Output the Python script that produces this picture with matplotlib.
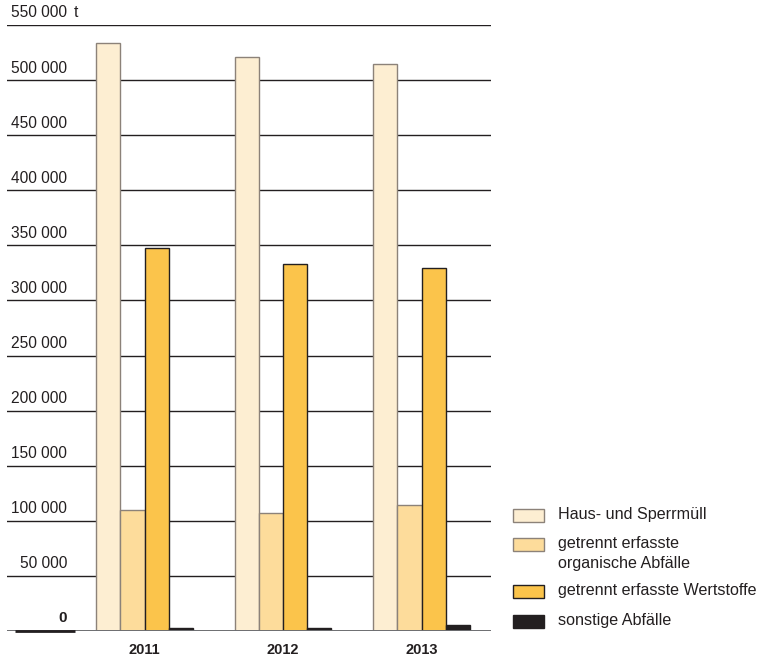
import matplotlib
matplotlib.use("Agg")
import matplotlib.pyplot as plt
from matplotlib.patches import Rectangle
import numpy as np

years = ["2011", "2012", "2013"]
series_labels = ["Haus- und Sperrmüll", "getrennt erfasste\norganische Abfälle",
                 "getrennt erfasste Wertstoffe", "sonstige Abfälle"]
haus = [533500, 521000, 514500]
organisch = [109800, 107300, 114400]
wertstoffe = [347400, 333100, 329500]
sonstige = [2800, 2800, 5200]
yticks = [50000, 100000, 150000, 200000, 250000, 300000, 350000, 400000, 450000, 500000, 550000]
ytick_labels = ["50 000", "100 000", "150 000", "200 000", "250 000", "300 000",
                "350 000", "400 000", "450 000", "500 000", "550 000"]

fills = ["#FDEED2", "#FDDC9B", "#FBC44B", "#231F20"]
edges = ["#8C8279", "#8C8279", "#231F20", "#231F20"]

plt.rcParams['font.family'] = ['Liberation Sans', 'DejaVu Sans']
W, H = 766, 658
fig = plt.figure(figsize=(W / 100, H / 100), dpi=100)
ax = fig.add_axes([7 / W, 27 / H, 484 / W, 606 / H])
ax.set_xlim(-0.9928, 2.5018)
ax.set_ylim(0, 550000)
for s in ax.spines.values():
    s.set_visible(False)
ax.set_xticks([])
ax.set_yticks([])

# grid lines
for v in yticks:
    ax.axhline(v, color="#231F20", lw=1.0, zorder=1)
ax.axhline(0, color="#6D6E71", lw=1.4, zorder=4)

x = np.arange(len(years))
w = 0.175
data = [haus, organisch, wertstoffe, sonstige]
for i, vals in enumerate(data):
    ax.bar(x + (i - 1.5) * w, vals, width=w, color=fills[i], edgecolor=edges[i],
           linewidth=1.0, zorder=3)

# y labels
lab_x = (67 - 7) / 484
for v, t in zip(yticks, ytick_labels):
    ax.annotate(t, xy=(lab_x, v), xycoords=ax.get_yaxis_transform(),
                xytext=(0, 3.3), textcoords="offset points",
                ha="right", va="bottom", fontsize=11.2, color="#231F20",
                annotation_clip=False)
ax.annotate("t", xy=(lab_x, 550000), xycoords=ax.get_yaxis_transform(),
            xytext=(5, 3.3), textcoords="offset points",
            ha="left", va="bottom", fontsize=11.2, color="#231F20",
            annotation_clip=False)
ax.annotate("0", xy=(lab_x, 0), xycoords=ax.get_yaxis_transform(),
            xytext=(0, 4.2), textcoords="offset points",
            ha="right", va="bottom", fontsize=11, fontweight="bold", color="#231F20",
            annotation_clip=False)
ax.plot([(15 - 7) / 484, (75 - 7) / 484], [0, 0], transform=ax.get_yaxis_transform(),
        color="#231F20", lw=2.0, zorder=5, clip_on=False, solid_capstyle="butt")

# year labels
for xi, yr in zip(x, years):
    ax.annotate(yr, xy=(xi, 0), xycoords="data", xytext=(0, -13.5),
                textcoords="offset points", ha="center", va="center",
                fontsize=10.5, fontweight="bold", color="#231F20", annotation_clip=False)

# legend (manual)
leg_rows = [515, 544, 591, 621]
for lab, fc, ec, yc in zip(series_labels, fills, edges, leg_rows):
    fig.patches.append(Rectangle((513 / W, 1 - (yc + 6.5) / H), 31 / W, 13 / H,
                                 transform=fig.transFigure, facecolor=fc,
                                 edgecolor=ec, linewidth=1.0))
    fig.text(558 / W, 1 - (yc - 8) / H, lab, ha="left", va="top",
             fontsize=11.6, color="#231F20", linespacing=1.45)

fig.savefig("out.png", dpi=100)
